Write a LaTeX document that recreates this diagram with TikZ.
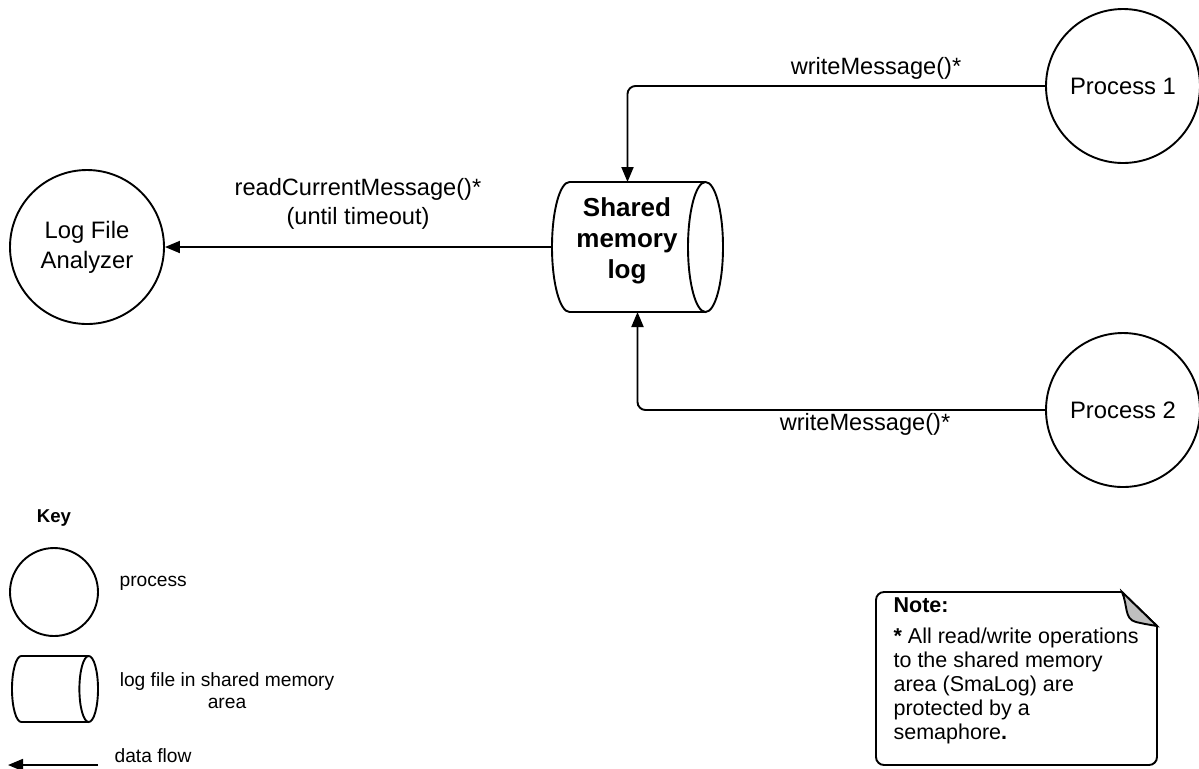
\documentclass[tikz,border=0pt]{standalone}
\usepackage{fontspec}
\setmainfont{Liberation Sans}
\usetikzlibrary{arrows.meta}
\begin{document}
\begin{tikzpicture}[x=0.5pt,y=0.5pt,line width=0.95pt,
  proc/.style={draw,circle,minimum size=77pt,inner sep=0pt,align=center,
    font=\fontsize{11.9}{15}\selectfont},
  logbox/.style={inner sep=0pt,outer sep=0pt},
  flow/.style={-{Triangle[length=7.5pt,width=6pt]}},
  lbl/.style={align=center,font=\fontsize{11.8}{14.5}\selectfont},
  keytxt/.style={align=center,font=\fontsize{9.6}{11}\selectfont}]
\useasboundingbox (0,0) rectangle (1199,-768);
% processes
\node[proc] (LFA) at (87,-247) {Log File\\Analyzer};
\foreach \i/\y in {1/86,2/410} {
  \node[proc] (P\i) at (1123,-\y) {Process \i};
}
% shared log
\node[logbox,minimum width=85.5pt,minimum height=65pt] (SML) at (637.5,-247) {};
\node[align=center,font=\bfseries\fontsize{13}{15.5}\selectfont] (SMLtxt) at (627,-241) {Shared\\memory\\log};
\node[logbox,minimum width=43pt,minimum height=33pt] (keylog) at (55,-689) {};
\foreach \n/\rx/\ry in {SML/8.75pt/32.5pt,keylog/4.65pt/16.5pt} {
  \draw ([xshift=-\rx]\n.north east) -- ([xshift=\rx]\n.north west)
    arc[start angle=90,end angle=270,x radius=\rx,y radius=\ry] -- ([xshift=-\rx]\n.south east);
  \draw ([xshift=-\rx]\n.east) ellipse[x radius=\rx,y radius=\ry];
}
% data flows
\draw[flow,rounded corners=4pt] (P1.west) -| ([xshift=-5pt]SML.north);
\draw[flow,rounded corners=4pt] (P2.west) -| (SML.south);
\draw[flow] (SML.west) -- (LFA.east);
\node[lbl] (w1) at (876,-68) {writeMessage()*};
\node[lbl] (w2) at (865,-424) {writeMessage()*};
\node[lbl] (rd) at (358,-204) {readCurrentMessage()*\\(until timeout)};
% key
\node[font=\bfseries\fontsize{9.3}{11}\selectfont] (keyhead) at (54,-518) {Key};
\node[draw,circle,minimum size=44pt,inner sep=0pt] (keyproc) at (54,-592) {};
\node[keytxt,anchor=west] (keyproctxt) at (112,-583) {process};
\node[keytxt] (keylogtxt) at (227,-691) {log file in shared memory\\area};
\coordinate (kf1) at (98,-765);
\coordinate (kf2) at (8,-765);
\draw[flow] (kf1) -- (kf2);
\node[keytxt,anchor=west] (keyflowtxt) at (107,-756) {data flow};
% note
\draw[rounded corners=4pt] (1122,-592) -- (876,-592) -- (876,-765) -- (1157,-765) -- (1157,-626);
\draw (1157,-626) -- (1122,-592);
\filldraw[fill=black!25] (1122,-592) .. controls (1128,-606) and (1124,-619) .. (1136,-622)
  .. controls (1145,-624) .. (1157,-626) -- cycle;
\node[anchor=west,font=\bfseries\fontsize{10.75}{12}\selectfont] (notehead) at (886,-605) {Note:};
\node[anchor=west,align=left,font=\fontsize{10.75}{12}\selectfont] (notetxt) at (886,-686)
  {\textbf{*} All read/write operations\\to the shared memory\\area (SmaLog) are\\protected by a\\semaphore\textbf{.}};
\end{tikzpicture}
\end{document}
